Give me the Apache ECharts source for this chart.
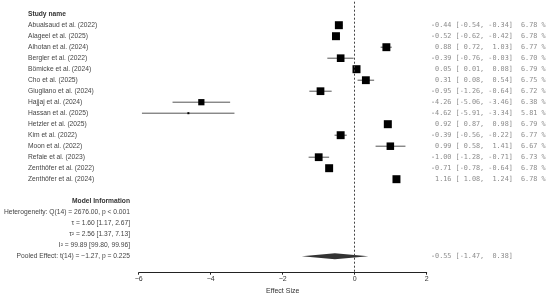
<!DOCTYPE html>
<html>
<head>
<meta charset="utf-8">
<script src="https://cdn.jsdelivr.net/npm/echarts@6/dist/echarts.min.js"></script>
<style>
  html, body { margin: 0; padding: 0; background: #fff; }
  #chart { width: 550px; height: 295px; }
</style>
</head>
<body>
<div id="chart"></div>
<script>
const studies = [
    'Abualsaud et al. (2022)', 'Alageel et al. (2025)', 'Alhotan et al. (2024)',
    'Bergler et al. (2022)', 'Bömicke et al. (2024)', 'Cho et al. (2025)',
    'Giugliano et al. (2024)', 'Hajjaj et al. (2024)', 'Hassan et al. (2025)',
    'Hetzler et al. (2025)', 'Kim et al. (2022)', 'Moon et al. (2022)',
    'Refaie et al. (2023)', 'Zenthöfer et al. (2022)', 'Zenthöfer et al. (2024)'
];
const estimates = [-0.44, -0.52, 0.88, -0.39, 0.05, 0.31, -0.95, -4.26, -4.62, 0.92, -0.39, 0.99, -1.00, -0.71, 1.16];
const lower = [-0.54, -0.62, 0.72, -0.76, 0.01, 0.08, -1.26, -5.06, -5.91, 0.87, -0.56, 0.58, -1.28, -0.78, 1.08];
const upper = [-0.34, -0.42, 1.03, -0.03, 0.08, 0.54, -0.64, -3.46, -3.34, 0.98, -0.22, 1.41, -0.71, -0.64, 1.24];
const weights = [6.78, 6.78, 6.77, 6.70, 6.79, 6.75, 6.72, 6.38, 5.81, 6.79, 6.77, 6.67, 6.73, 6.78, 6.78];

const pooledEst = -0.55;
const pooledLower = -1.47;
const pooledUpper = 0.38;

const modelInfo = [
    'Heterogeneity: Q(14) = 2676.00, p < 0.001',
    'τ = 1.60 [1.17, 2.67]',
    'τ² = 2.56 [1.37, 7.13]',
    'I² = 99.89 [99.80, 99.96]',
    'Pooled Effect: t(14) = \u22121.27, p = 0.225'
];
const xTicks = [-6, -4, -2, 0, 2];
const refValue = 0;

// row layout: studies 0..14, model info header on 16, pooled on 21
const pooledRow = 21;
const infoHeaderRow = 16;

const wMin = Math.min(...weights), wMax = Math.max(...weights);
// square area grows with weight
const sqSize = w => Math.sqrt(4 + (w - wMin) / (wMax - wMin) * 60);

const fmt = v => v.toFixed(2).padStart(5, ' ');
const estText = (e, l, h) => fmt(e) + ' [' + fmt(l) + ', ' + fmt(h) + ']';

const leftFont = '6.7px "Liberation Sans", Arial, sans-serif';
const monoFont = '6.8px "DejaVu Sans Mono", "Liberation Mono", monospace';

var myChart = echarts.init(document.getElementById('chart'));

const textRows = [];
textRows.push({ row: -1, x: 28, align: 'left', text: 'Study name', font: 'bold ' + leftFont, color: '#333' });
studies.forEach((n, i) => {
    textRows.push({ row: i, x: 28, align: 'left', text: n, font: leftFont, color: '#444' });
    textRows.push({ row: i, x: 431, align: 'left', text: estText(estimates[i], lower[i], upper[i]) + '  ' + weights[i].toFixed(2) + ' %', font: monoFont, color: '#8c8c8c' });
});
textRows.push({ row: infoHeaderRow, x: 130, align: 'right', text: 'Model Information', font: 'bold ' + leftFont, color: '#333' });
modelInfo.forEach((t, k) => {
    textRows.push({ row: infoHeaderRow + 1 + k, x: 130, align: 'right', text: t, font: leftFont, color: '#444' });
});
textRows.push({ row: pooledRow, x: 431, align: 'left', text: estText(pooledEst, pooledLower, pooledUpper), font: monoFont, color: '#8c8c8c' });

myChart.setOption({
    animation: false,
    grid: { left: 138.7, width: 288, top: -2.3, height: 275, outerBoundsMode: 'none', containLabel: false },
    xAxis: {
        type: 'value',
        position: 'bottom',
        min: -6, max: 2, interval: 2,
        name: 'Effect Size',
        nameLocation: 'middle',
        nameGap: 13,
        nameTextStyle: { fontSize: 7, color: '#333', fontFamily: 'Liberation Sans' },
        axisLine: { show: true, onZero: false, lineStyle: { color: '#222', width: 1 } },
        axisTick: { show: true, length: 2, lineStyle: { color: '#222' } },
        axisLabel: {
            fontSize: 7, color: '#333', margin: 3, fontFamily: 'Liberation Sans',
            formatter: v => xTicks.includes(v) ? (v < 0 ? '\u2212' + (-v) : String(v)) : ''
        },
        splitLine: { show: false }
    },
    yAxis: {
        type: 'value', inverse: true, min: -2.5, max: 22.5,
        show: false, splitLine: { show: false }
    },
    series: [
        {
            type: 'custom',
            clip: false,
            data: estimates.map((e, i) => [e, i, lower[i], upper[i], weights[i]]),
            renderItem(params, api) {
                const row = api.value(1);
                const p = api.coord([api.value(0), row]);
                const lo = api.coord([api.value(2), row]);
                const hi = api.coord([api.value(3), row]);
                const s = sqSize(api.value(4));
                return {
                    type: 'group',
                    children: [
                        { type: 'line', shape: { x1: lo[0], y1: p[1], x2: hi[0], y2: p[1] }, style: { stroke: '#555', lineWidth: 1 } },
                        { type: 'rect', shape: { x: p[0] - s / 2, y: p[1] - s / 2, width: s, height: s }, style: { fill: '#000' } }
                    ]
                };
            },
            markLine: {
                silent: true,
                symbol: 'none',
                label: { show: false },
                lineStyle: { color: '#444', type: [2, 2], width: 1 },
                data: [{ xAxis: refValue }]
            }
        },
        {
            type: 'custom',
            clip: false,
            data: [[pooledEst, pooledRow, pooledLower, pooledUpper]],
            renderItem(params, api) {
                const row = api.value(1);
                const c = api.coord([api.value(0), row]);
                const lo = api.coord([api.value(2), row]);
                const hi = api.coord([api.value(3), row]);
                const h = 3;
                return {
                    type: 'polygon',
                    shape: { points: [[lo[0], c[1]], [c[0], c[1] - h], [hi[0], c[1]], [c[0], c[1] + h]] },
                    style: { fill: '#333' }
                };
            }
        },
        {
            type: 'custom',
            clip: false,
            silent: true,
            data: textRows.map((t, k) => [0, t.row, k]),
            renderItem(params, api) {
                const t = textRows[api.value(2)];
                const y = api.coord([0, api.value(1)])[1];
                return {
                    type: 'text',
                    x: t.x, y: y,
                    style: {
                        text: t.text, font: t.font, fill: t.color,
                        textAlign: t.align, textVerticalAlign: 'middle'
                    }
                };
            }
        }
    ]
});
</script>
</body>
</html>
